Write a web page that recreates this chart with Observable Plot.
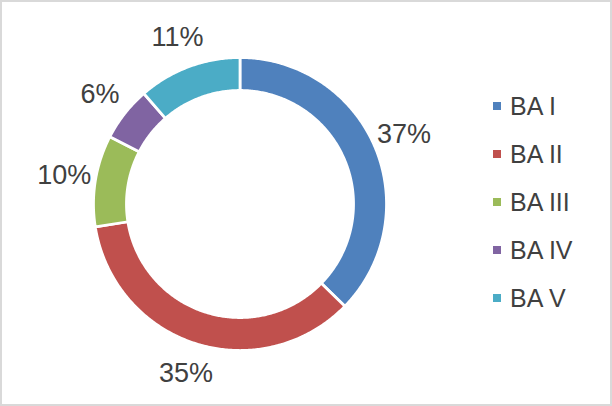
<!DOCTYPE html>
<html>
<head>
<meta charset="utf-8">
<script src="https://cdn.jsdelivr.net/npm/d3@7"></script>
<script src="https://cdn.jsdelivr.net/npm/@observablehq/plot@0.6"></script>
<style>
  html, body { margin: 0; padding: 0; background: #fff; }
  #wrap { position: relative; width: 612px; height: 406px; overflow: hidden; background: #fff; }
  #frame { position: absolute; left: 0; top: 0; width: 612px; height: 406px; box-sizing: border-box; border: 2px solid #d9d9d9; pointer-events: none; }
  #legend { position: absolute; left: 493px; top: 82px; width: 115px; }
</style>
</head>
<body>
<div id="wrap"><div id="legend"></div><div id="frame"></div></div>
<script>
const categories = ["BA I", "BA II", "BA III", "BA IV", "BA V"];
const values = [37.3, 35.2, 10.1, 6.0, 11.4];
const labels = ["37%", "35%", "10%", "6%", "11%"];
const colors = ["#4F81BD", "#C0504D", "#9BBB59", "#8064A2", "#4BACC6"];

const total = d3.sum(values);
const ends = d3.cumsum(values);
const innerR = 0.775;
const labelR = 1.215;

// Build slice outlines in unit-circle data space (angle 0 at top, clockwise)
const slicePts = [];
const labelData = [];
values.forEach((v, i) => {
  const a0 = (ends[i] - v) / total * 2 * Math.PI;
  const a1 = ends[i] / total * 2 * Math.PI;
  const n = Math.max(8, Math.ceil((a1 - a0) / 0.01));
  for (let k = 0; k <= n; k++) {
    const a = a0 + (a1 - a0) * k / n;
    slicePts.push({cat: categories[i], x: Math.sin(a), y: Math.cos(a)});
  }
  for (let k = n; k >= 0; k--) {
    const a = a0 + (a1 - a0) * k / n;
    slicePts.push({cat: categories[i], x: innerR * Math.sin(a), y: innerR * Math.cos(a)});
  }
  const am = (a0 + a1) / 2;
  labelData.push({label: labels[i], x: labelR * Math.sin(am), y: labelR * Math.cos(am)});
});

const chart = Plot.plot({
  width: 612,
  height: 406,
  margin: 0,
  style: {background: "transparent"},
  x: {domain: [-1, 1], range: [239.5 - 146.5, 239.5 + 146.5], axis: null},
  y: {domain: [-1, 1], range: [203.5 + 146.5, 203.5 - 146.5], axis: null},
  color: {domain: categories, range: colors},
  marks: [
    Plot.line(slicePts, {x: "x", y: "y", z: "cat", fill: "cat", stroke: "white", strokeWidth: 2.75, curve: "linear-closed"}),
    Plot.text(labelData, {x: "x", y: "y", text: "label", fill: "#404040", fontSize: 27, fontFamily: "Liberation Sans, Arial, sans-serif", textAnchor: "middle", lineAnchor: "middle"})
  ]
});
document.getElementById("wrap").insertBefore(chart, document.getElementById("legend"));

const leg = Plot.legend({
  color: {domain: categories, range: colors},
  legend: "swatches",
  columns: 1,
  swatchSize: 8,
  className: "lg"
});
document.getElementById("legend").appendChild(leg);
</script>
<style>
  .lg-swatches { margin: 0 !important; font-family: "Liberation Sans", Arial, sans-serif !important; font-size: 25px !important; color: #404040 !important; min-height: 0 !important; }
  .lg-swatch { height: 48px !important; padding: 0 !important; margin: 0 !important; display: flex !important; align-items: center !important; }
  .lg-swatch svg { margin-right: 9px !important; margin-left: 0 !important; }
  .lg-swatch::before { content: none !important; }
  .lg-swatch-label { overflow: visible !important; }
</style>
</body>
</html>
